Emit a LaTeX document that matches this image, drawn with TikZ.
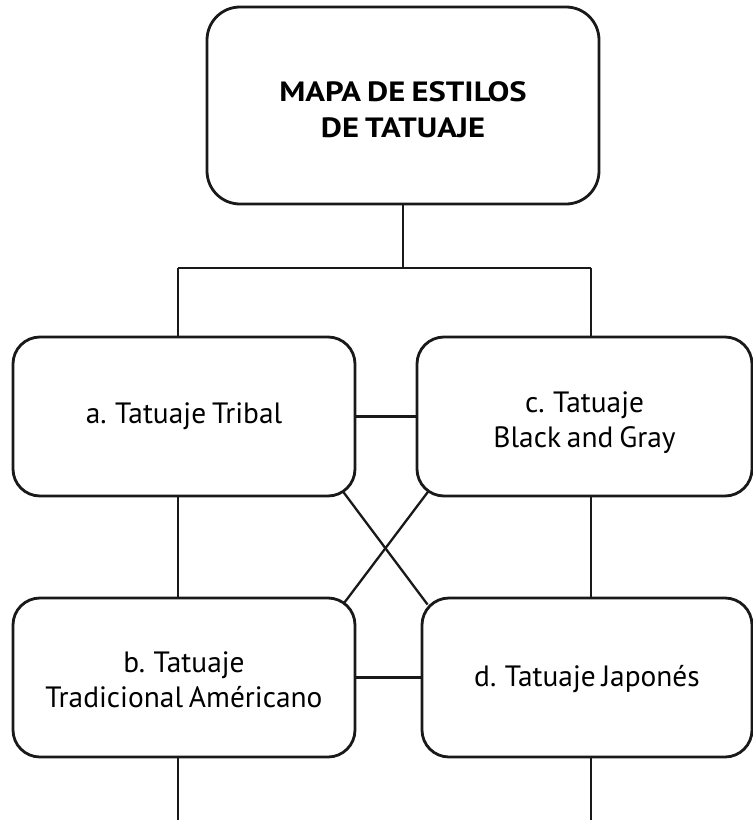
\documentclass[tikz,border=0pt]{standalone}
\usepackage{fontspec}
\setmainfont{PT Sans}[WordSpace=0.75]
\newfontfamily\titlefont{PT Sans}[FakeStretch=1.17,WordSpace=0.75]
\usetikzlibrary{calc,backgrounds}
\begin{document}
\begin{tikzpicture}[x=1bp,y=-1bp,
  box/.style={draw=black!90,line width=2.8bp,fill=white,rounded corners=27bp,align=center,inner sep=0pt,font=\fontsize{29.5}{35}\selectfont},
  link/.style={draw=black!90,line width=2.3bp}]
\useasboundingbox (0,0) rectangle (753,820);
\node[box,rounded corners=33bp,minimum width=392bp,minimum height=197bp,text height=64bp,font=\titlefont\bfseries\fontsize{28}{36}\selectfont] (top) at (403,105.5) {MAPA DE ESTILOS\\DE TATUAJE};
\node[box,minimum width=342bp,minimum height=159bp] (a) at (184,416.5) {a. Tatuaje Tribal};
\node[box,minimum width=335bp,minimum height=159bp,text height=68bp] (c) at (584.5,416.5) {c. Tatuaje\\Black and Gray};
\node[box,minimum width=342bp,minimum height=159bp,text height=60bp] (b) at (184,677.5) {b. Tatuaje\\Tradicional Américano};
\node[box,minimum width=330bp,minimum height=159bp,text height=25bp] (d) at (587,677.5) {d. Tatuaje Japonés};
\coordinate (jL) at (178,268);
\coordinate (jR) at (591,268);
\coordinate (eL) at (178,820);
\coordinate (eR) at (591,820);
\begin{pgfonlayer}{background}
\draw[link] (top.south) -- (top.south |- jL);
\draw[link] (jL) -- (jR);
\draw[link] (jL) -- (jL |- a.north);
\draw[link] (jR) -- (jR |- c.north);
\draw[link] (a) -- (c);
\draw[link] (b) -- (d);
\draw[link] (jL |- a.south) -- (jL |- b.north);
\draw[link] (jR |- c.south) -- (jR |- d.north);
\draw[link] ($(a.south east)+(-18,-12)$) -- ($(d.north west)+(7,8)$);
\draw[link] ($(c.south west)+(18,-13)$) -- ($(b.north east)+(-12,6)$);
\draw[link] (jL |- b.south) -- (eL);
\draw[link] (jR |- d.south) -- (eR);
\end{pgfonlayer}
\end{tikzpicture}
\end{document}
